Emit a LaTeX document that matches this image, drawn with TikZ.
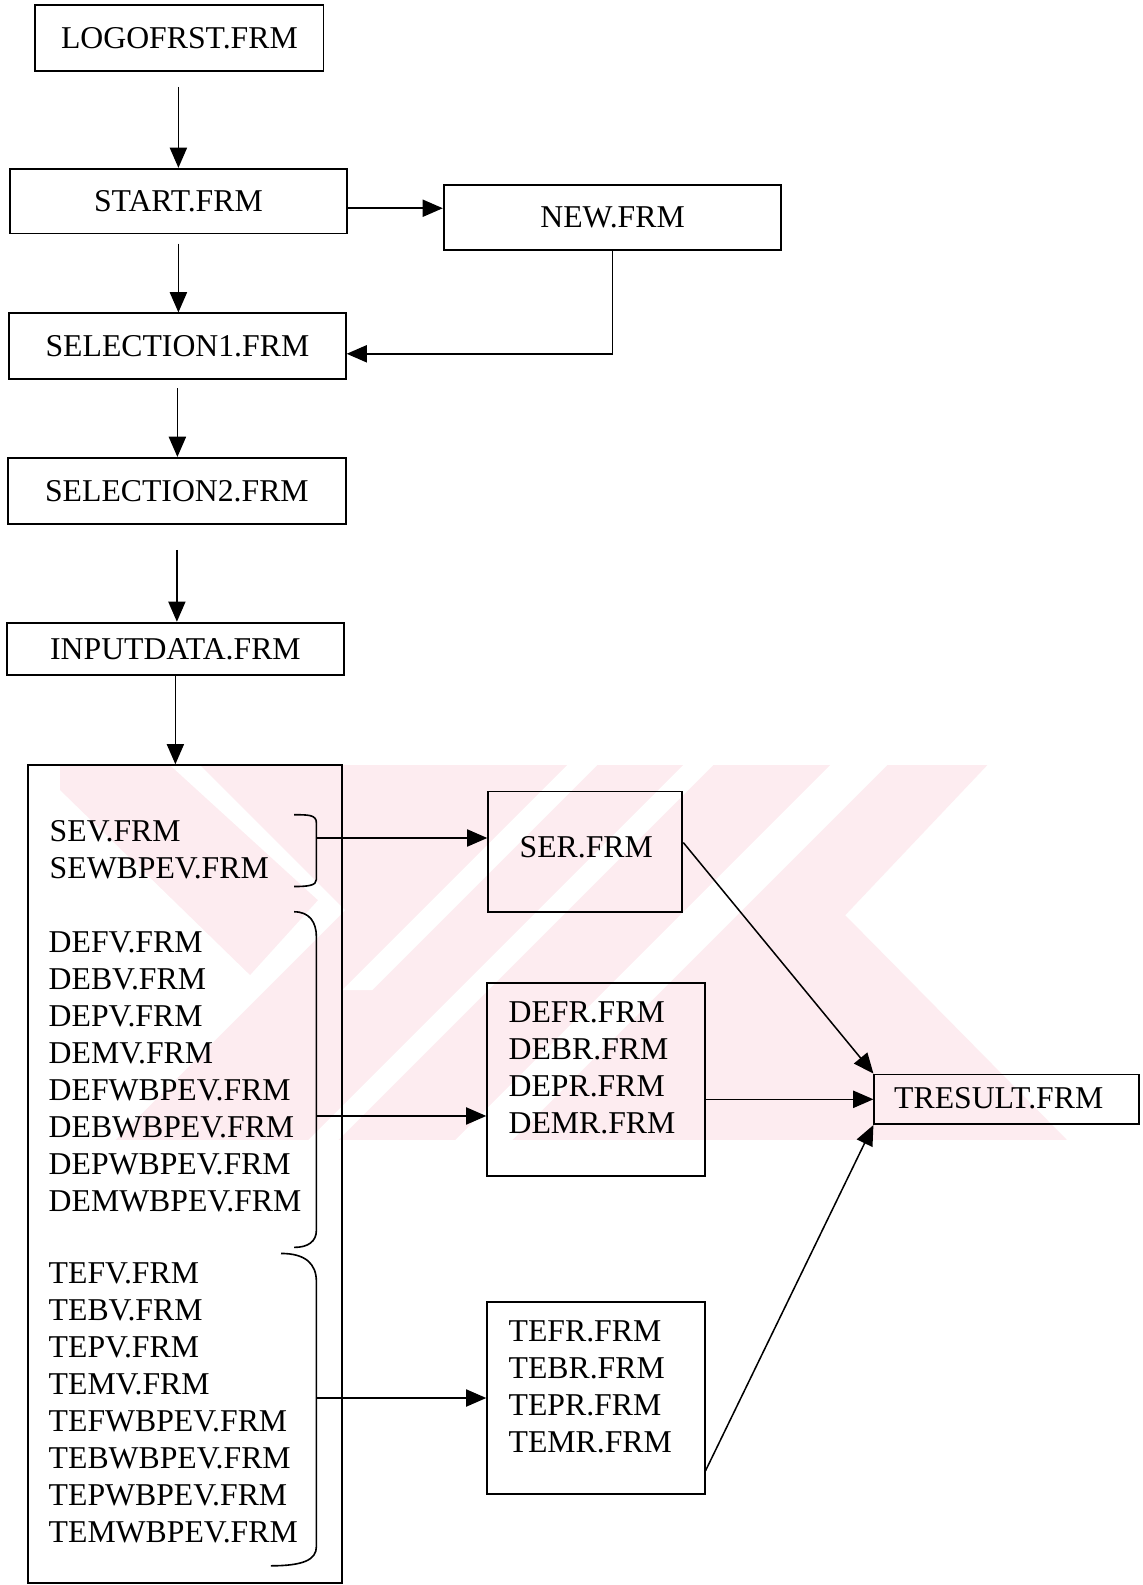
\documentclass[tikz,border=0pt]{standalone}
\usepackage{fontspec}
\setmainfont{Liberation Serif}
\usetikzlibrary{arrows.meta}
\definecolor{wmpink}{RGB}{253,236,240}
\begin{document}
\begin{tikzpicture}[x=1pt,y=-1pt,
  txt/.style={font=\fontsize{31.4}{36.6}\selectfont},
  box/.style={draw, line width=1.9pt, inner sep=0pt, txt},
  item/.style={inner sep=0pt, anchor=base west, txt},
  arr/.style={line width=1.5pt, -{Triangle[length=20pt,width=17pt]}},
  brk/.style={line width=1.6pt},
]
\useasboundingbox (0,0) rectangle (1130,1568);
\fill[white] (0,0) rectangle (1130,1568);

% faint emblem behind the lower half
\begin{scope}[scale=0.9895]
  \begin{scope}
    \clip (60,765) -- (987,765) -- (845,915) -- (1067,1140) -- (60,1140) -- cycle;
    \fill[wmpink] (60,765) rectangle (1070,1140);
    \fill[white] (60,790) -- (250,975) -- (318,900) -- (170,765) -- (200,765)
      -- (345,910) -- (265,990) -- (115,1140) -- (60,1140) -- cycle;
    \fill[white] (567,765) -- (597,765) -- (372,990) -- (342,990) -- cycle;
    \fill[white] (683,765) -- (713,765) -- (338,1140) -- (308,1140) -- cycle;
    \fill[white] (830,765) -- (887,765) -- (512,1140) -- (455,1140) -- cycle;
  \end{scope}
\end{scope}

% upper chain of forms
\node[box, minimum width=285pt, minimum height=65pt] (logo) at (177.5,37.5) {LOGOFRST.FRM};
\node[box, minimum width=333pt, minimum height=64pt] (start) at (176.5,199) {START.FRM};
\node[box, minimum width=334pt, minimum height=64pt] (new) at (606,215) {NEW.FRM};
\node[box, minimum width=333pt, minimum height=65pt] (sel1) at (175.5,342.5) {SELECTION1.FRM};
\node[box, minimum width=334pt, minimum height=65pt] (sel2) at (175,485.5) {SELECTION2.FRM};
\node[box, minimum width=333pt, minimum height=52pt] (input) at (173.5,642) {INPUTDATA.FRM};

% group of value forms
\node[box, minimum width=310pt, minimum height=809pt] (group) at (183,1161.5) {};
\foreach \t [count=\i] in {SEV.FRM, SEWBPEV.FRM}
  \node[item] (se\i) at (49,{832+36.6*(\i-1)}) {\t};
\foreach \t [count=\i] in {DEFV.FRM, DEBV.FRM, DEPV.FRM, DEMV.FRM,
    DEFWBPEV.FRM, DEBWBPEV.FRM, DEPWBPEV.FRM, DEMWBPEV.FRM}
  \node[item] (dev\i) at (48,{942+36.6*(\i-1)}) {\t};
\foreach \t [count=\i] in {TEFV.FRM, TEBV.FRM, TEPV.FRM, TEMV.FRM,
    TEFWBPEV.FRM, TEBWBPEV.FRM, TEPWBPEV.FRM, TEMWBPEV.FRM}
  \node[item] (tev\i) at (48,{1270+36.6*(\i-1)}) {\t};

% brackets
\draw[brk] (291,806) .. controls (305,806) and (313,806) .. (313,814) -- (313,870)
  .. controls (313,876) and (305,877) .. (291,877);
\draw[brk] (291,902) .. controls (306,902) and (313,912) .. (313,927) -- (313,1217)
  .. controls (313,1228) and (305,1234) .. (291,1234);
\draw[brk] (278,1240) .. controls (302,1240) and (313,1250) .. (313,1268) -- (313,1530)
  .. controls (313,1543) and (300,1549) .. (268,1549);
\coordinate (b1) at (313,829);
\coordinate (b2) at (313,1104);
\coordinate (b3) at (313,1383);

% result forms
\node[box, minimum width=192pt, minimum height=119pt] (ser) at (579,842.5) {};
\node[txt, inner sep=0pt] (sertxt) at (580,838) {SER.FRM};
\node[box, minimum width=215pt, minimum height=191pt] (de) at (589.5,1067.5) {};
\foreach \t [count=\i] in {DEFR.FRM, DEBR.FRM, DEPR.FRM, DEMR.FRM}
  \node[item] (der\i) at (503,{1012+36.4*(\i-1)}) {\t};
\node[box, minimum width=215pt, minimum height=190pt] (te) at (589.5,1383) {};
\foreach \t [count=\i] in {TEFR.FRM, TEBR.FRM, TEPR.FRM, TEMR.FRM}
  \node[item] (ter\i) at (503,{1327+36.6*(\i-1)}) {\t};
\node[box, minimum width=262pt, minimum height=49pt] (tres) at (996,1087.5) {};
\node[txt, inner sep=0pt] (trestxt) at (988,1086) {TRESULT.FRM};

% connectors
\draw[arr, shorten <=15pt] (start.north |- logo.south) -- (start.north);
\draw[arr, shorten <=9pt] (start.south) -- (start.south |- sel1.north);
\draw[arr, shorten <=8pt] (sel1.south) -- (sel1.south |- sel2.north);
\draw[arr, shorten <=25pt] (sel2.south) -- (sel2.south |- input.north);
\draw[arr] (input.south) -- (input.south |- group.north);
\draw[arr] ([yshift=-7pt]start.east) -- ([yshift=-7pt]start.east -| new.west);
\draw[arr] (new.south) |- ([yshift=-7.5pt]sel1.east);

\draw[arr] (b1) -- (b1 -| ser.west);
\draw[arr] (b2) -- (b2 -| de.west);
\draw[arr] (b3) -- (b3 -| te.west);

\draw[arr] ([yshift=9pt]ser.east) -- (tres.north west);
\draw[arr] (tres.west -| de.east) -- (tres.west);
\draw[arr] ([yshift=-72pt]te.east) -- (tres.south west);
\end{tikzpicture}
\end{document}
